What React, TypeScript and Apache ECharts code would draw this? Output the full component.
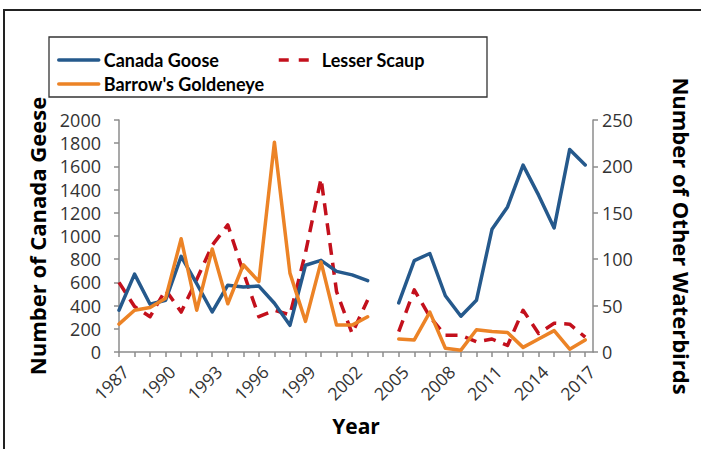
import React, { useEffect, useRef } from "react";
import * as echarts from "echarts";

const years = [
  1987, 1988, 1989, 1990, 1991, 1992, 1993, 1994, 1995, 1996, 1997, 1998, 1999, 2000, 2001, 2002,
  2003, 2004, 2005, 2006, 2007, 2008, 2009, 2010, 2011, 2012, 2013, 2014, 2015, 2016, 2017,
];
const labelYears = [1987, 1990, 1993, 1996, 1999, 2002, 2005, 2008, 2011, 2014, 2017];

const canadaGoose = [
  360, 671, 412, 446, 825, 590, 345, 576, 561, 568, 420, 230, 748, 790, 695, 665,
  615, null, 423, 788, 849, 485, 308, 446, 1058, 1251, 1611, 1352, 1070, 1746, 1612,
];
const lesserScaup = [
  75, 49, 38, 67, 43, 78, 115, 137, 86, 38, 45, 40, 107, 187, 65, 20,
  56, null, 22, 67, 38, 18, 18, 11, 14, 7, 45, 20, 31, 30, 16,
];
const barrowsGoldeneye = [
  30, 45, 48, 58, 122, 45, 111, 52, 94, 76, 226, 85, 33, 97, 29, 29,
  38, null, 14, 13, 43, 4, 2, 24, 22, 21, 5, 14, 23, 3, 13,
];

const BLUE = "#25598C";
const ORANGE = "#EC8326";
const RED = "#C3101C";
const AXIS_GRAY = "#8C8C8C";
const FONT = "'Open Sans', sans-serif";
const LEGEND_FONT = "Lato, 'Open Sans', sans-serif";

const toPairs = (vals: (number | null)[]) =>
  years.map((y, i) => [y, vals[i] === null ? "-" : vals[i]]);

export default function App() {
  const ref = useRef<HTMLDivElement>(null);
  useEffect(() => {
    if (!ref.current) return;
    const chart = echarts.init(ref.current, undefined, { renderer: "svg" });
    const legendText = { fontFamily: LEGEND_FONT, fontWeight: "bold" as const, fontSize: 18, color: "#000" };
    const titleStyle = { fontFamily: FONT, fontWeight: "bold" as const, fontSize: 22, color: "#000" };
    const hiddenSymbol = { opacity: 0, borderWidth: 0 };
    chart.setOption({
      animation: false,
      backgroundColor: "#fff",
      textStyle: { fontFamily: FONT },
      grid: { left: 119, right: 108, top: 120, height: 232 },
      graphic: [
        {
          type: "rect",
          shape: { x: 4, y: 10, width: 760, height: 520 },
          style: { fill: "none", stroke: "#222", lineWidth: 2 },
          silent: true,
          z: -1,
        },
        {
          type: "rect",
          shape: { x: 49, y: 37, width: 438, height: 60 },
          style: { fill: "none", stroke: "#333", lineWidth: 1.3 },
          silent: true,
          z: -1,
        },
      ],
      legend: [
        {
          data: ["Canada Goose"],
          left: 57,
          top: 51,
          padding: 0,
          itemWidth: 40,
          itemHeight: 14,
          textStyle: legendText,
          itemStyle: hiddenSymbol,
          lineStyle: { width: 3.5 },
        },
        {
          data: ["Lesser Scaup"],
          left: 277,
          top: 51,
          padding: 0,
          itemWidth: 30,
          itemHeight: 14,
          textStyle: { ...legendText, padding: [0, 0, 0, 8] },
          itemStyle: hiddenSymbol,
          lineStyle: { width: 3.5, type: [10, 10] },
        },
        {
          data: ["Barrow's Goldeneye"],
          left: 57,
          top: 75,
          padding: 0,
          itemWidth: 40,
          itemHeight: 14,
          textStyle: legendText,
          itemStyle: hiddenSymbol,
          lineStyle: { width: 3.5 },
        },
      ],
      xAxis: {
        type: "value",
        min: 1987,
        max: 2017.5,
        name: "Year",
        nameLocation: "middle",
        nameGap: 63,
        nameTextStyle: { ...titleStyle, fontSize: 21 },
        axisLine: { show: true, lineStyle: { color: AXIS_GRAY, width: 1.5 } },
        axisTick: { show: true, customValues: years, length: 5, lineStyle: { color: AXIS_GRAY, width: 1.5 } },
        axisLabel: {
          customValues: labelYears,
          formatter: (v: number) => String(v),
          rotate: 45,
          margin: 10,
          verticalAlign: "top",
          fontSize: 17.5,
          color: "#333",
          fontFamily: FONT,
        },
        splitLine: { show: false },
      },
      yAxis: [
        {
          type: "value",
          min: 0,
          max: 2000,
          interval: 200,
          position: "left",
          name: "Number of Canada Geese",
          nameLocation: "middle",
          nameGap: 71,
          nameTextStyle: titleStyle,
          axisLine: { show: true, lineStyle: { color: AXIS_GRAY, width: 1.5 } },
          axisTick: { show: true, length: 5, lineStyle: { color: AXIS_GRAY, width: 1.5 } },
          axisLabel: {
            margin: 18,
            fontSize: 18,
            lineHeight: 19,
            color: "#333",
            fontFamily: FONT,
            formatter: (v: number) => String(v),
          },
          splitLine: { show: false },
        },
        {
          type: "value",
          min: 0,
          max: 250,
          interval: 50,
          position: "right",
          name: "Number of Other Waterbirds",
          nameLocation: "middle",
          nameRotate: -90,
          nameGap: 78,
          nameTextStyle: titleStyle,
          axisLine: { show: true, lineStyle: { color: AXIS_GRAY, width: 1.5 } },
          axisTick: { show: true, length: 5, lineStyle: { color: AXIS_GRAY, width: 1.5 } },
          axisLabel: {
            margin: 9,
            fontSize: 18,
            lineHeight: 19,
            color: "#333",
            fontFamily: FONT,
            formatter: (v: number) => String(v),
          },
          splitLine: { show: false },
        },
      ],
      series: [
        {
          name: "Canada Goose",
          type: "line",
          yAxisIndex: 0,
          data: toPairs(canadaGoose),
          symbol: "none",
          connectNulls: false,
          lineStyle: { color: BLUE, width: 3.5, cap: "round", join: "round" },
          itemStyle: { color: BLUE },
          z: 3,
        },
        {
          name: "Lesser Scaup",
          type: "line",
          yAxisIndex: 1,
          data: toPairs(lesserScaup),
          symbol: "none",
          connectNulls: false,
          lineStyle: { color: RED, width: 3.5, type: [12, 8], join: "round" },
          itemStyle: { color: RED },
          z: 2,
        },
        {
          name: "Barrow's Goldeneye",
          type: "line",
          yAxisIndex: 1,
          data: toPairs(barrowsGoldeneye),
          symbol: "none",
          connectNulls: false,
          lineStyle: { color: ORANGE, width: 3.5, cap: "round", join: "round" },
          itemStyle: { color: ORANGE },
          z: 4,
        },
      ],
    });
    return () => chart.dispose();
  }, []);
  return (
    <div
      ref={ref}
      style={{ position: "fixed", left: 0, top: 0, width: 701, height: 449, background: "#fff" }}
    />
  );
}
